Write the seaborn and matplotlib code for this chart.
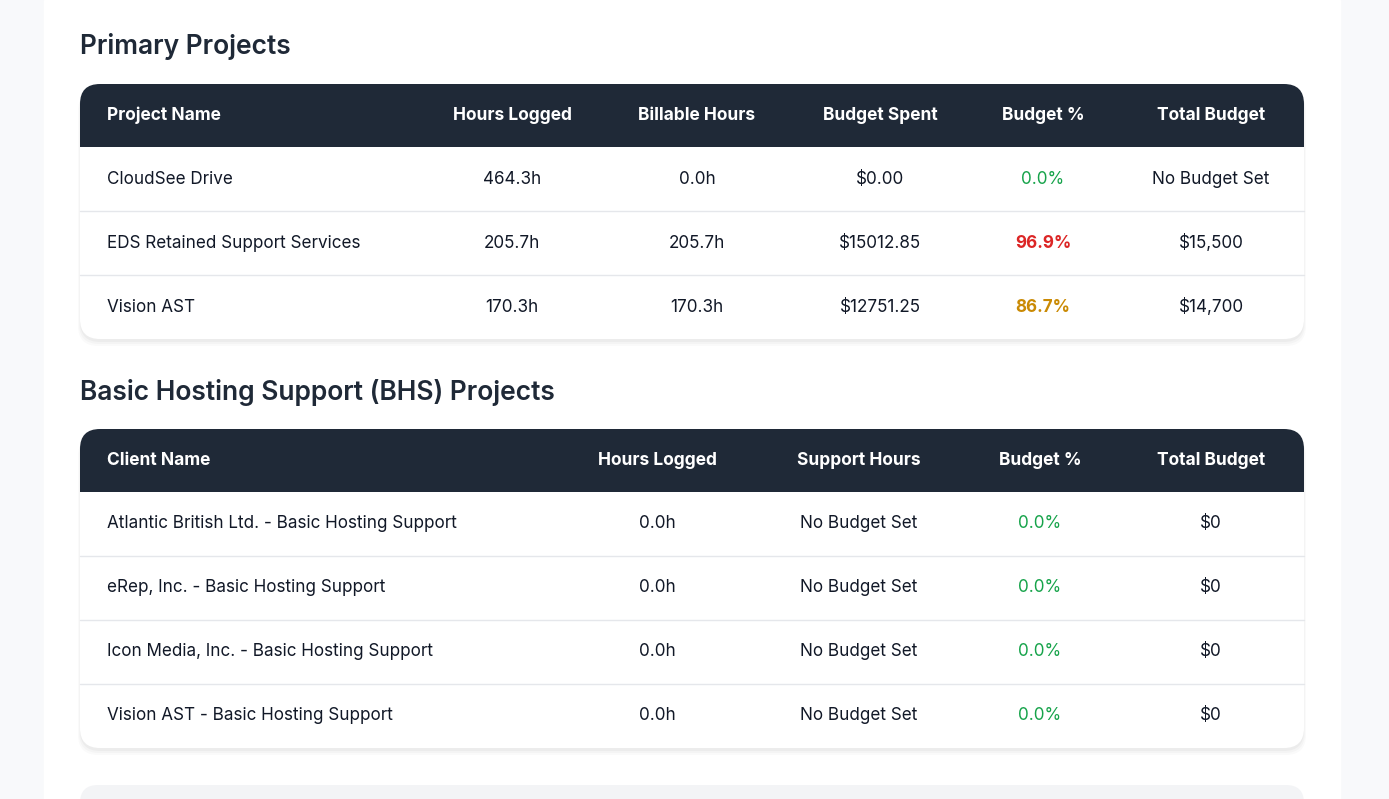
import matplotlib
matplotlib.use("Agg")
import matplotlib.pyplot as plt
import seaborn as sns
from matplotlib.patches import FancyBboxPatch, Rectangle

sns.set_theme(style="white")
plt.rcParams['font.family'] = ['Inter', 'DejaVu Sans']

# ---- data ----
primary_title = "Primary Projects"
primary_headers = ["Project Name", "Hours Logged", "Billable Hours", "Budget Spent", "Budget %", "Total Budget"]
primary_names = ["CloudSee Drive", "EDS Retained Support Services", "Vision AST"]
primary_hours = ["464.3h", "205.7h", "170.3h"]
primary_billable = ["0.0h", "205.7h", "170.3h"]
primary_spent = ["$0.00", "$15012.85", "$12751.25"]
primary_pct = [0.0, 96.9, 86.7]
primary_total = ["No Budget Set", "$15,500", "$14,700"]

bhs_title = "Basic Hosting Support (BHS) Projects"
bhs_headers = ["Client Name", "Hours Logged", "Support Hours", "Budget %", "Total Budget"]
bhs_names = ["Atlantic British Ltd. - Basic Hosting Support", "eRep, Inc. - Basic Hosting Support",
             "Icon Media, Inc. - Basic Hosting Support", "Vision AST - Basic Hosting Support"]
bhs_hours = ["0.0h", "0.0h", "0.0h", "0.0h"]
bhs_support = ["No Budget Set"] * 4
bhs_pct = [0.0, 0.0, 0.0, 0.0]
bhs_total = ["$0", "$0", "$0", "$0"]

W, H = 1389, 799
fig = plt.figure(figsize=(W / 100, H / 100), dpi=100)
fig.patch.set_facecolor("#f8f9fb")
ax = fig.add_axes([0, 0, 1, 1])
ax.set_xlim(0, W); ax.set_ylim(H, 0); ax.axis("off")

ax.add_patch(Rectangle((44, 0), 1296, H, color="white", zorder=0))
ax.add_patch(FancyBboxPatch((80, 785), 1224, 40, boxstyle="round,pad=0,rounding_size=18",
                            color="#f3f4f6", zorder=1, lw=0))

DARK = "#1f2937"
TXT = "#111827"

def pct_style(p):
    if p >= 90:
        return "#dc2626", "bold"
    if p >= 75:
        return "#ca8a04", "bold"
    return "#16a34a", "normal"

def table(title, title_y, top, headers, xs, aligns, rows, pcts, pct_col):
    ax.text(80, title_y, title, fontsize=19, fontweight="semibold", color=DARK, va="center", ha="left")
    hh, rh = 63, 64
    n = len(rows)
    bottom = top + hh + rh * n
    for i, a in enumerate([0.03, 0.025, 0.02]):
        ax.add_patch(FancyBboxPatch((80 - i, top + 3 + i * 2), 1224 + 2 * i, bottom - top, lw=0,
                                    boxstyle="round,pad=0,rounding_size=20", color="black", alpha=a, zorder=1))
    ax.add_patch(FancyBboxPatch((80, top), 1224, bottom - top, boxstyle="round,pad=0,rounding_size=20",
                                color="white", zorder=2, lw=0))
    ax.add_patch(FancyBboxPatch((80, top), 1224, hh, boxstyle="round,pad=0,rounding_size=20",
                                color=DARK, zorder=3, lw=0))
    ax.add_patch(Rectangle((80, top + 30), 1224, hh - 30, color=DARK, zorder=3, lw=0))
    for h, x, al in zip(headers, xs, aligns):
        ax.text(x, top + hh / 2, h, fontsize=12.5, fontweight="bold", color="white",
                ha=al, va="center", zorder=4)
    for r, row in enumerate(rows):
        yc = top + hh + rh * r + rh / 2
        if r > 0:
            ax.plot([80, 1304], [top + hh + rh * r] * 2, color="#e5e7eb", lw=1, zorder=3)
        for c, (val, x, al) in enumerate(zip(row, xs, aligns)):
            color, wt = TXT, "normal"
            if c == pct_col:
                color, wt = pct_style(pcts[r])
            ax.text(x, yc, val, fontsize=12.3, color=color, fontweight=wt, ha=al, va="center", zorder=4)

p_rows = [[primary_names[i], primary_hours[i], primary_billable[i], primary_spent[i],
           f"{primary_pct[i]:.1f}%", primary_total[i]] for i in range(len(primary_names))]
table(primary_title, 47, 84, primary_headers, [107, 512, 697, 880, 1043, 1211],
      ["left"] + ["center"] * 5, p_rows, primary_pct, 4)

b_rows = [[bhs_names[i], bhs_hours[i], bhs_support[i], f"{bhs_pct[i]:.1f}%", bhs_total[i]]
          for i in range(len(bhs_names))]
table(bhs_title, 392, 429, bhs_headers, [107, 657, 859, 1040, 1211],
      ["left"] + ["center"] * 4, b_rows, bhs_pct, 3)

fig.savefig("out.png", dpi=100, facecolor=fig.get_facecolor())
